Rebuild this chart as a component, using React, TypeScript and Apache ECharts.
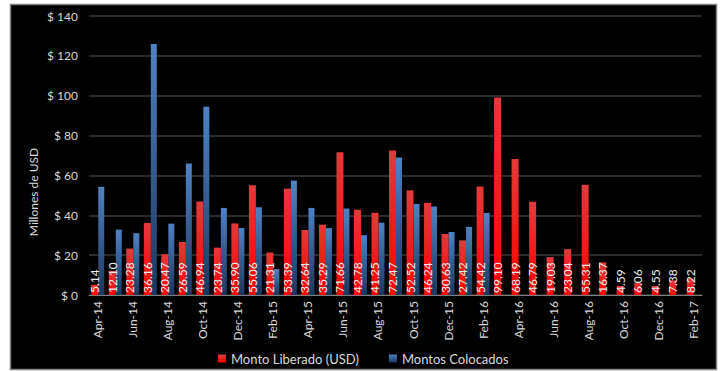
import React, { useEffect, useRef } from "react";
import * as echarts from "echarts";

const months = [
  "Apr-14", "May-14", "Jun-14", "Jul-14", "Aug-14", "Sep-14", "Oct-14", "Nov-14", "Dec-14",
  "Jan-15", "Feb-15", "Mar-15", "Apr-15", "May-15", "Jun-15", "Jul-15", "Aug-15", "Sep-15",
  "Oct-15", "Nov-15", "Dec-15", "Jan-16", "Feb-16", "Mar-16", "Apr-16", "May-16", "Jun-16",
  "Jul-16", "Aug-16", "Sep-16", "Oct-16", "Nov-16", "Dec-16", "Jan-17", "Feb-17",
];

const montoLiberado = [
  5.14, 12.1, 23.28, 36.16, 20.47, 26.59, 46.94, 23.74, 35.9, 55.06, 21.31, 53.39, 32.64,
  35.29, 71.66, 42.78, 41.25, 72.47, 52.52, 46.24, 30.63, 27.42, 54.42, 99.1, 68.19, 46.79,
  19.03, 23.04, 55.31, 16.37, 4.59, 6.06, 4.55, 7.38, 8.22,
];

const montosColocados: (number | null)[] = [
  54.3, 32.8, 31, 126, 35.8, 66, 94.5, 43.7, 33.6, 44, 13, 57.4, 43.7, 33.6, 43.4, 30,
  36.3, 69, 45.7, 44.4, 31.6, 34.2, 41.2, null, null, null, null, null, null, null, null,
  null, null, null, null,
];

const seriesNames = ["Monto Liberado (USD)", "Montos Colocados"];
const yTicks = { min: 0, max: 140, interval: 20 };

const FONT = "Lato, 'DejaVu Sans', sans-serif";
const TXT = "#d9d9d9";

export default function App() {
  const ref = useRef<HTMLDivElement>(null);
  useEffect(() => {
    if (!ref.current) return;
    const chart = echarts.init(ref.current, null, { renderer: "svg" });
    chart.setOption({
      animation: false,
      backgroundColor: "#ffffff",
      textStyle: { fontFamily: FONT },
      graphic: [
        {
          type: "rect",
          z: -10,
          shape: { x: 10.5, y: 4.5, width: 706, height: 365 },
          style: { fill: "#000000", stroke: "#808080", lineWidth: 1.5 },
        },
        {
          type: "text",
          x: 33,
          y: 192,
          rotation: Math.PI / 2,
          style: {
            text: "Millones de USD",
            fill: TXT,
            font: `12px ${FONT}`,
            align: "center",
            verticalAlign: "middle",
          },
        },
      ],
      legend: {
        data: seriesNames,
        left: 213,
        top: 347,
        itemWidth: 8,
        itemHeight: 8,
        itemGap: 30,
        icon: "rect",
        textStyle: { color: TXT, fontSize: 13, fontFamily: FONT },
      },
      grid: { left: 89, right: 21, top: 16, bottom: 76 },
      xAxis: {
        type: "category",
        data: months,
        axisLine: { lineStyle: { color: "#7f7f7f", width: 1 } },
        axisTick: { show: false },
        axisLabel: {
          interval: 1,
          rotate: 90,
          color: TXT,
          fontSize: 12,
          fontFamily: FONT,
          margin: 6,
        },
      },
      yAxis: {
        type: "value",
        min: yTicks.min,
        max: yTicks.max,
        interval: yTicks.interval,
        axisLine: { show: false },
        axisTick: { show: false },
        splitLine: { lineStyle: { color: "#3a3a3a", width: 1.5 } },
        axisLabel: {
          color: TXT,
          fontSize: 12,
          fontFamily: FONT,
          margin: 11,
          formatter: (v: number) => `$ ${v}`,
        },
      },
      series: [
        {
          name: seriesNames[0],
          type: "bar",
          data: montoLiberado,
          z: 3,
          barWidth: 7,
          barGap: "0%",
          itemStyle: {
            color: new echarts.graphic.LinearGradient(0, 0, 0, 1, [
              { offset: 0, color: "#e23a3a" },
              { offset: 1, color: "#ff0000" },
            ]),
          },
          label: {
            show: true,
            position: "insideBottom",
            rotate: 90,
            align: "left",
            verticalAlign: "middle",
            distance: 2,
            color: "#eeeeee",
            fontSize: 12,
            fontFamily: FONT,
            formatter: (p: any) => p.value.toFixed(2),
          },
        },
        {
          name: seriesNames[1],
          type: "bar",
          data: montosColocados,
          z: 2,
          barWidth: 6,
          barGap: "0%",
          itemStyle: {
            color: new echarts.graphic.LinearGradient(0, 0, 0, 1, [
              { offset: 0, color: "#4f82c4" },
              { offset: 1, color: "#1c365f" },
            ]),
          },
        },
      ],
    });
    return () => chart.dispose();
  }, []);
  return (
    <div
      ref={ref}
      style={{ position: "fixed", left: 0, top: 0, width: 723, height: 371 }}
    />
  );
}
